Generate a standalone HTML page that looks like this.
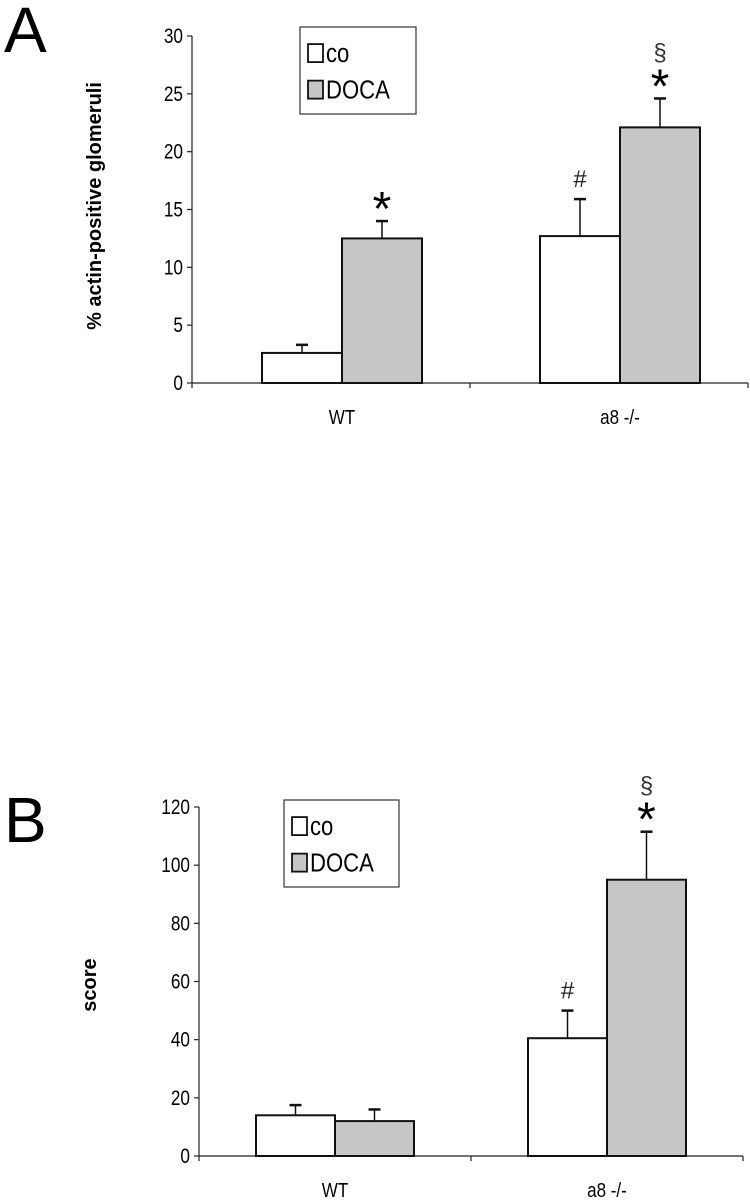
<!DOCTYPE html>
<html><head><meta charset="utf-8"><style>
html,body{margin:0;padding:0;background:#fff;}
svg{display:block;font-family:"Liberation Sans",Arial,sans-serif;}
</style></head><body>
<svg id="fig" width="750" height="1200" viewBox="0 0 750 1200" xmlns="http://www.w3.org/2000/svg">
<text x="4" y="52" font-size="64">A</text>
<text x="4" y="842" font-size="64">B</text>
</svg>
<script>
const categories = ["WT", "a8 -/-"];
const seriesNames = ["co", "DOCA"];
const aCo = [2.6, 12.7];
const aCoErr = [0.7, 3.2];
const aDoca = [12.5, 22.1];
const aDocaErr = [1.5, 2.5];
const aTicks = [0, 5, 10, 15, 20, 25, 30];
const aMarks = [["", "#"], ["*", "§*"]];
const bCo = [14, 40.5];
const bCoErr = [3.5, 9.5];
const bDoca = [12, 95];
const bDocaErr = [4, 16.5];
const bTicks = [0, 20, 40, 60, 80, 100, 120];
const bMarks = [["", "#"], ["", "§*"]];

const NS = "http://www.w3.org/2000/svg";
const svg = document.getElementById("fig");
function mk(tag, attrs, parent) {
  const e = document.createElementNS(NS, tag);
  for (const k in attrs) e.setAttribute(k, attrs[k]);
  (parent || svg).appendChild(e);
  return e;
}
function drawChart(cfg) {
  const g = mk("g", {});
  
  
  const max = cfg.ticks[cfg.ticks.length - 1];
  const y = v => cfg.y0 - (v / max) * (cfg.y0 - cfg.yTop);
  const catW = (cfg.xRight - cfg.xAxis) / categories.length;
  const groupCenter = i => cfg.xAxis + catW * (i + 0.5) + cfg.shift;
  const bw = cfg.barW;
  const ax = mk("line", {x1: cfg.xAxis, y1: cfg.yTop, x2: cfg.xAxis, y2: cfg.y0, stroke: "#222", "stroke-width": 1.2}, g);
  
  
  const xa = mk("line", {x1: cfg.xAxis, y1: cfg.y0, x2: cfg.xRight, y2: cfg.y0, stroke: "#222", "stroke-width": 1.2}, g);
  
  
  for (let i = 0; i <= categories.length; i++) {
    const tx = cfg.xAxis + catW * i;
    mk("line", {x1: tx, y1: cfg.y0, x2: tx, y2: cfg.y0 + 5, stroke: "#222", "stroke-width": 1.2}, g);
  }
  cfg.ticks.forEach(t => {
    mk("line", {x1: cfg.xAxis - 5, y1: y(t), x2: cfg.xAxis, y2: y(t), stroke: "#222", "stroke-width": 1.2}, g);
    const tl = mk("text", {x: cfg.xAxis - 9, y: y(t) + 7, "font-size": 21, "text-anchor": "end", transform: `translate(${(cfg.xAxis-9)*0.18},0) scale(0.82,1)`}, g);
    tl.textContent = t;
    
    
  });
  categories.forEach((c, i) => {
    const cl = mk("text", {x: groupCenter(i), y: cfg.y0 + 41, "font-size": 20, "text-anchor": "middle", transform: `translate(${groupCenter(i)*0.15},0) scale(0.85,1)`}, g);
    cl.textContent = c;
    
    
    const series = [[cfg.co, cfg.coErr, "#fff"], [cfg.doca, cfg.docaErr, "#c6c6c6"]];
    series.forEach((s, j) => {
      const x0 = groupCenter(i) - bw + j * bw;
      const v = s[0][i], e = s[1][i];
      const cx = x0 + bw / 2;
      mk("line", {x1: cx, y1: y(v + e), x2: cx, y2: y(v), stroke: "#111", "stroke-width": 1.5}, g);
      mk("line", {x1: cx - 6, y1: y(v + e), x2: cx + 6, y2: y(v + e), stroke: "#111", "stroke-width": 2.5}, g);
      const r = mk("rect", {x: x0, y: y(v), width: bw, height: cfg.y0 - y(v), fill: s[2], stroke: "#111", "stroke-width": 2}, g);
      
      
      const m = cfg.marks[j][i];
      if (m.includes("*")) {
        const st = mk("text", {x: cx, y: y(v + e) + 4, "font-size": 48, "text-anchor": "middle"}, g);
        st.textContent = "*";
        
        
      }
      if (m.includes("§")) {
        const sc = mk("text", {x: cx, y: y(v + e) - 38, "font-size": 24, "text-anchor": "middle", fill: "#333"}, g);
        sc.textContent = "§";
        
        
      }
      if (m.includes("#")) {
        const h = mk("text", {x: cx, y: y(v + e) - 12, "font-size": 24, "text-anchor": "middle", fill: "#222"}, g);
        h.textContent = "#";
        
        
      }
    });
  });
  const yt = mk("text", {x: 0, y: 0, "font-size": cfg.titleSize, "font-weight": "bold", "text-anchor": "middle", transform: `translate(${cfg.titleX},${cfg.titleY}) rotate(-90)`}, g);
  yt.textContent = cfg.title;
  
  
  const L = cfg.legend;
  const lg = mk("g", {}, g);
  
  
  mk("rect", {x: L.x, y: L.y, width: L.w, height: L.h, fill: "#fff", stroke: "#333", "stroke-width": 1.2}, lg);
  seriesNames.forEach((n, j) => {
    const ly = L.y + L.h * (j === 0 ? 0.3 : 0.72);
    mk("rect", {x: L.x + 8, y: ly - 9, width: 15, height: 18, fill: j ? "#c6c6c6" : "#fff", stroke: "#111", "stroke-width": 1.8}, lg);
    const t = mk("text", {x: L.x + 26, y: ly + 9, "font-size": 26, transform: `translate(${(L.x+26)*0.15},0) scale(0.85,1)`}, lg);
    t.textContent = n;
    
    
  });
}
drawChart({name: "chart-a", co: aCo, coErr: aCoErr, doca: aDoca, docaErr: aDocaErr, ticks: aTicks, marks: aMarks,
  xAxis: 192, xRight: 748, y0: 383, yTop: 36, barW: 80, shift: 11,
  title: "% actin-positive glomeruli", titleSize: 20, titleX: 101, titleY: 206,
  legend: {x: 300, y: 27, w: 116, h: 87}});
drawChart({name: "chart-b", co: bCo, coErr: bCoErr, doca: bDoca, docaErr: bDocaErr, ticks: bTicks, marks: bMarks,
  xAxis: 199, xRight: 743, y0: 1156, yTop: 807, barW: 79, shift: 0,
  title: "score", titleSize: 20, titleX: 96, titleY: 985,
  legend: {x: 284, y: 800, w: 115, h: 87}});
</script>
</body></html>
